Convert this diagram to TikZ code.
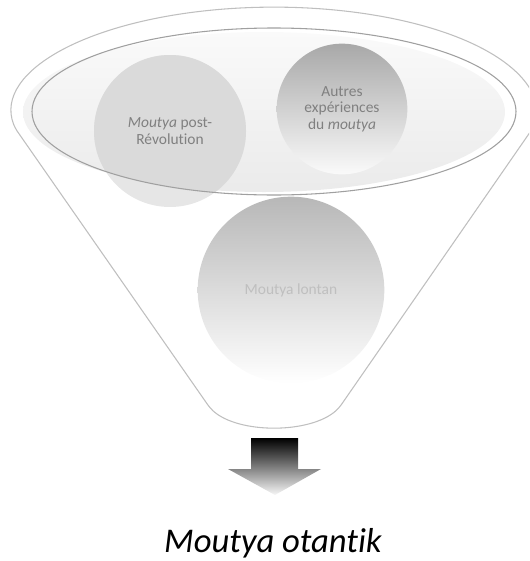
\documentclass[tikz,border=0pt]{standalone}
\usepackage{fontspec}
\setmainfont{Carlito}[Ligatures=NoCommon]
\usetikzlibrary{positioning, calc}
\definecolor{FunnelGray}{RGB}{191, 191, 191}
\definecolor{RimGray}{RGB}{160, 160, 160}
\definecolor{BubbleText}{RGB}{128, 128, 128}
\definecolor{BubbleLight}{RGB}{230, 230, 230}
\definecolor{BubbleDark}{RGB}{218, 218, 218}

\begin{document}
\begin{tikzpicture}[
    x=0.75pt, y=-0.75pt,
    funnel_line/.style={
        draw=FunnelGray,           % Thin outline of the funnel
        line width=0.8pt,
        rounded corners=3pt
    },
    rim_line/.style={
        draw=RimGray,              % Rim of the funnel mouth
        line width=0.8pt
    },
    bubble/.style={
        circle,
        inner sep=0pt,
        align=center,
        text=BubbleText,
        font=\fontsize{11.6}{12.5}\selectfont
    },
    result_text/.style={
        font=\fontsize{26}{30}\selectfont\itshape,
        text=black,
        anchor=base
    }
]

    % --- 1. Frame ---
    \useasboundingbox (0,0) rectangle (529,561);
    \clip (0,0) rectangle (529,561);

    % --- 2. Funnel body ---
    \draw[funnel_line] (15,128)
        arc[start angle=171.3, end angle=368.7, x radius=262, y radius=105]
        -- (339,408) .. controls (310,434) and (238,434) .. (210,408) -- cycle;

    % Mouth: soft fill, shifted a little to the left of its rim
    \shade[top color=black!2, bottom color=black!8]
        (264,112) ellipse [x radius=241, y radius=80];

    % --- 3. Bubbles ---
    \node[bubble, fill=BubbleLight, minimum size=114pt] (postrev) at (170,131) {};
    \begin{scope}
        \clip (274,111.5) ellipse [x radius=242, y radius=83.5];
        \fill[BubbleDark] (170,131) circle [radius=76];
    \end{scope}
    \node[bubble] at (postrev.center) {\textit{Moutya} post-\\Révolution};

    \draw[rim_line] (274,111.5) ellipse [x radius=242, y radius=83.5];

    \node[bubble, top color=black!34, middle color=black!15, bottom color=black!2,
          minimum size=98pt] (autres) at (342,109) {Autres\\expériences\\du \textit{moutya}};

    \node[bubble, top color=black!28, middle color=black!10, bottom color=white,
          minimum size=140pt, text=FunnelGray] (lontan) at (291,290) {Moutya lontan};

    % --- 4. Outlet arrow and result ---
    \node[result_text] (otantik) at (273,552) {Moutya otantik};

    \shade[top color=black, middle color=black!38, bottom color=black!3]
        (251,438) -- (298,438) -- (298,469) -- (321,469)
        -- (275,495) -- (228,469) -- (251,469) -- cycle;

\end{tikzpicture}
\end{document}
